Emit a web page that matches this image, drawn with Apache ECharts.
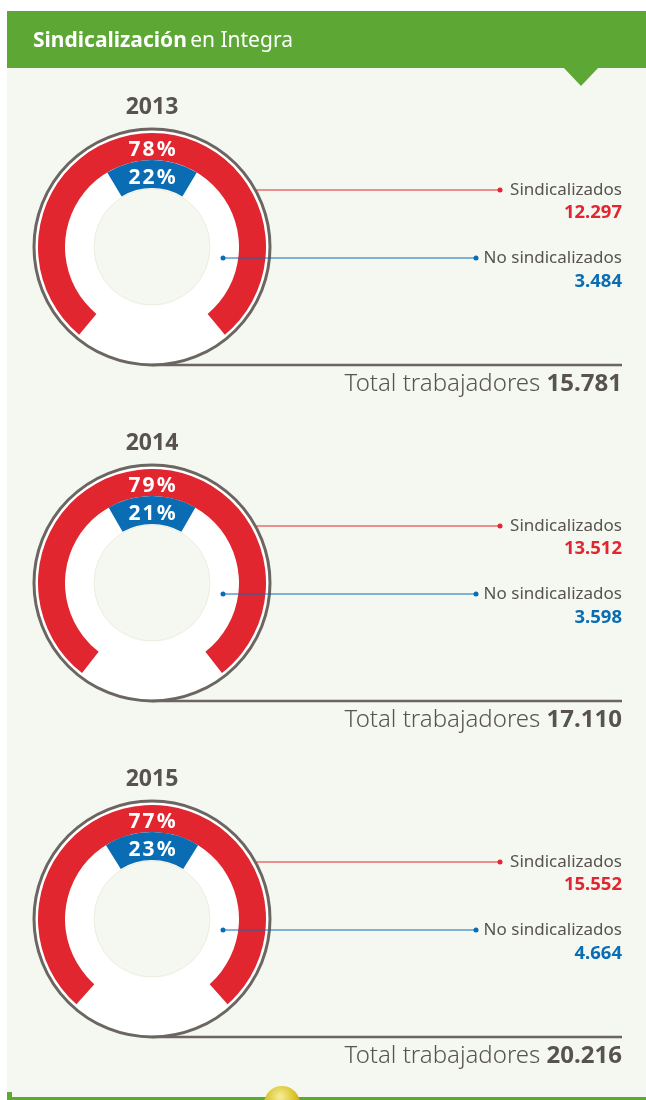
<!DOCTYPE html>
<html>
<head>
<meta charset="utf-8">
<script src="https://cdn.jsdelivr.net/npm/echarts@6/dist/echarts.min.js"></script>
<style>
  html, body { margin: 0; padding: 0; background: #ffffff; }
  #chart { width: 646px; height: 1100px; }
</style>
</head>
<body>
<div id="chart"></div>
<script>
// Unionisation at Integra, one ring chart per year
const years = ['2013', '2014', '2015'];
const sindicalizados = [12297, 13512, 15552];
const noSindicalizados = [3484, 3598, 4664];
const totales = [15781, 17110, 20216];

const RED = '#e1262f';
const BLUE = '#0a6db3';
const GREEN = '#5da835';
const GREY = '#58534f';
const RING = '#6b6661';
const PAPER = '#f5f8f1';
const FONT = '"Noto Sans", "Open Sans", sans-serif';

const CX = 152;
const TOP = 247;
const STEP = 336;
const RIGHT = 622;

// Thousands separator with a dot
function fmt(n) {
  return String(n).replace(/\B(?=(\d{3})+(?!\d))/g, '.');
}
// Rounded share, with hair spaces to open up the glyphs a little
function pct(part, total) {
  return (Math.round(part / total * 100) + '%').split('').join('\u200a');
}

const series = [];
const graphics = [
  // page background and header
  { type: 'rect', shape: { x: 7, y: 68, width: 639, height: 1030 }, style: { fill: PAPER }, z: 0 },
  { type: 'rect', shape: { x: 7, y: 11, width: 639, height: 57 }, style: { fill: GREEN }, z: 0 },
  { type: 'polygon', shape: { points: [[563, 67], [599, 67], [581, 86]] }, style: { fill: GREEN }, z: 0 },
  {
    type: 'text', x: 33, y: 41, z: 100,
    style: {
      text: '{b|Sindicalización} {r|en Integra}',
      verticalAlign: 'middle',
      rich: {
        b: { fontFamily: FONT, fontSize: 21, fontWeight: 'bold', fill: '#ffffff' },
        r: { fontFamily: FONT, fontSize: 21, fill: '#ffffff' }
      }
    }
  },
  // footer rule
  { type: 'rect', shape: { x: 7, y: 1097, width: 639, height: 3 }, style: { fill: GREEN }, z: 0 },
  { type: 'rect', shape: { x: 7, y: 1092, width: 5, height: 8 }, style: { fill: GREEN }, z: 0 },
  {
    type: 'circle', shape: { cx: 282, cy: 1104, r: 18 }, z: 1,
    style: {
      fill: new echarts.graphic.RadialGradient(0.45, 0.3, 0.8, [
        { offset: 0, color: '#f6ee9a' },
        { offset: 0.5, color: '#d9c42c' },
        { offset: 1, color: '#9c8a10' }
      ])
    }
  }
];

years.forEach(function (year, i) {
  const cy = TOP + i * STEP;
  const s = sindicalizados[i];
  const n = noSindicalizados[i];
  const t = totales[i];

  // outer arc: unionised share, centred on top, gap at the bottom
  const redSweep = 360 * s / t;
  const redStart = 90 + redSweep / 2;
  series.push({
    type: 'pie',
    center: [CX, cy],
    radius: [87, 114],
    startAngle: redStart,
    clockwise: true,
    silent: true,
    animation: false,
    avoidLabelOverlap: false,
    label: { show: false },
    labelLine: { show: false },
    emphasis: { disabled: true },
    z: 3,
    data: [
      { value: s, itemStyle: { color: RED } },
      { value: n, itemStyle: { color: 'rgba(0,0,0,0)' } }
    ]
  });

  // inner arc: non-unionised share over the same sweep as the outer arc
  const blueSweep = redSweep * n / t;
  const blueStart = 90 + blueSweep / 2;
  series.push({
    type: 'pie',
    center: [CX, cy],
    radius: [59, 87],
    startAngle: blueStart,
    endAngle: blueStart - redSweep,
    clockwise: true,
    silent: true,
    animation: false,
    avoidLabelOverlap: false,
    label: { show: false },
    labelLine: { show: false },
    emphasis: { disabled: true },
    z: 3,
    data: [
      { value: n, itemStyle: { color: BLUE } },
      { value: s, itemStyle: { color: 'rgba(0,0,0,0)' } }
    ]
  });

  const redY = cy - 57;
  const blueY = cy + 11;
  const ringR = 118;
  const redX0 = CX + Math.sqrt(ringR * ringR - 57 * 57) + 1;

  graphics.push(
    // year
    {
      type: 'text', x: CX, y: cy - 140, z: 100,
      style: { text: year, align: 'center', verticalAlign: 'middle', fontFamily: FONT, fontSize: 23, fontWeight: 'bold', fill: GREY }
    },
    // share labels at the top of each arc
    {
      type: 'text', x: CX, y: cy - 97, z: 100,
      style: { text: pct(s, t), align: 'center', verticalAlign: 'middle', fontFamily: FONT, fontSize: 21, fontWeight: 'bold', fill: '#ffffff' }
    },
    {
      type: 'text', x: CX, y: cy - 69, z: 100,
      style: { text: pct(n, t), align: 'center', verticalAlign: 'middle', fontFamily: FONT, fontSize: 21, fontWeight: 'bold', fill: '#ffffff' }
    },
    // base rule running from the ring's foot
    { type: 'line', shape: { x1: CX, y1: cy + ringR, x2: RIGHT, y2: cy + ringR }, style: { stroke: RING, lineWidth: 2.5 }, z: 1 },
    // ring frame, white backing and inner disc
    { type: 'circle', shape: { cx: CX, cy: cy, r: 116.5 }, style: { fill: '#ffffff' }, z: 1 },
    { type: 'circle', shape: { cx: CX, cy: cy, r: ringR }, style: { fill: 'none', stroke: RING, lineWidth: 3 }, z: 2 },
    { type: 'circle', shape: { cx: CX, cy: cy, r: 58 }, style: { fill: PAPER, stroke: '#eeecdc', lineWidth: 1 }, z: 2 },
    // leader for unionised
    { type: 'line', shape: { x1: redX0, y1: redY, x2: 500, y2: redY }, style: { stroke: RED, lineWidth: 1 }, z: 4 },
    { type: 'circle', shape: { cx: 500, cy: redY, r: 2.5 }, style: { fill: RED }, z: 4 },
    {
      type: 'text', x: RIGHT, y: redY, z: 100,
      style: { text: 'Sindicalizados', align: 'right', verticalAlign: 'middle', fontFamily: FONT, fontSize: 17, fill: GREY }
    },
    {
      type: 'text', x: RIGHT, y: redY + 23, z: 100,
      style: { text: fmt(s), align: 'right', verticalAlign: 'middle', fontFamily: FONT, fontSize: 18.5, fontWeight: 'bold', fill: RED }
    },
    // leader for non-unionised
    { type: 'line', shape: { x1: 223, y1: blueY, x2: 476, y2: blueY }, style: { stroke: BLUE, lineWidth: 1 }, z: 4 },
    { type: 'circle', shape: { cx: 223, cy: blueY, r: 2.5 }, style: { fill: BLUE }, z: 4 },
    { type: 'circle', shape: { cx: 476, cy: blueY, r: 2.5 }, style: { fill: BLUE }, z: 4 },
    {
      type: 'text', x: RIGHT, y: blueY, z: 100,
      style: { text: 'No sindicalizados', align: 'right', verticalAlign: 'middle', fontFamily: FONT, fontSize: 17, fill: GREY }
    },
    {
      type: 'text', x: RIGHT, y: blueY + 24, z: 100,
      style: { text: fmt(n), align: 'right', verticalAlign: 'middle', fontFamily: FONT, fontSize: 18.5, fontWeight: 'bold', fill: BLUE }
    },
    // total
    {
      type: 'text', x: RIGHT, y: cy + 137, z: 100,
      style: {
        text: '{l|Total trabajadores }{b|' + fmt(t) + '}',
        align: 'right', verticalAlign: 'middle',
        rich: {
          l: { fontFamily: FONT, fontSize: 24, fontWeight: 300, fill: GREY },
          b: { fontFamily: FONT, fontSize: 24, fontWeight: 'bold', fill: GREY }
        }
      }
    }
  );
});

const chart = echarts.init(document.getElementById('chart'), null, { renderer: 'canvas' });
chart.setOption({
  backgroundColor: '#ffffff',
  animation: false,
  graphic: { elements: graphics },
  series: series
});
</script>
</body>
</html>
